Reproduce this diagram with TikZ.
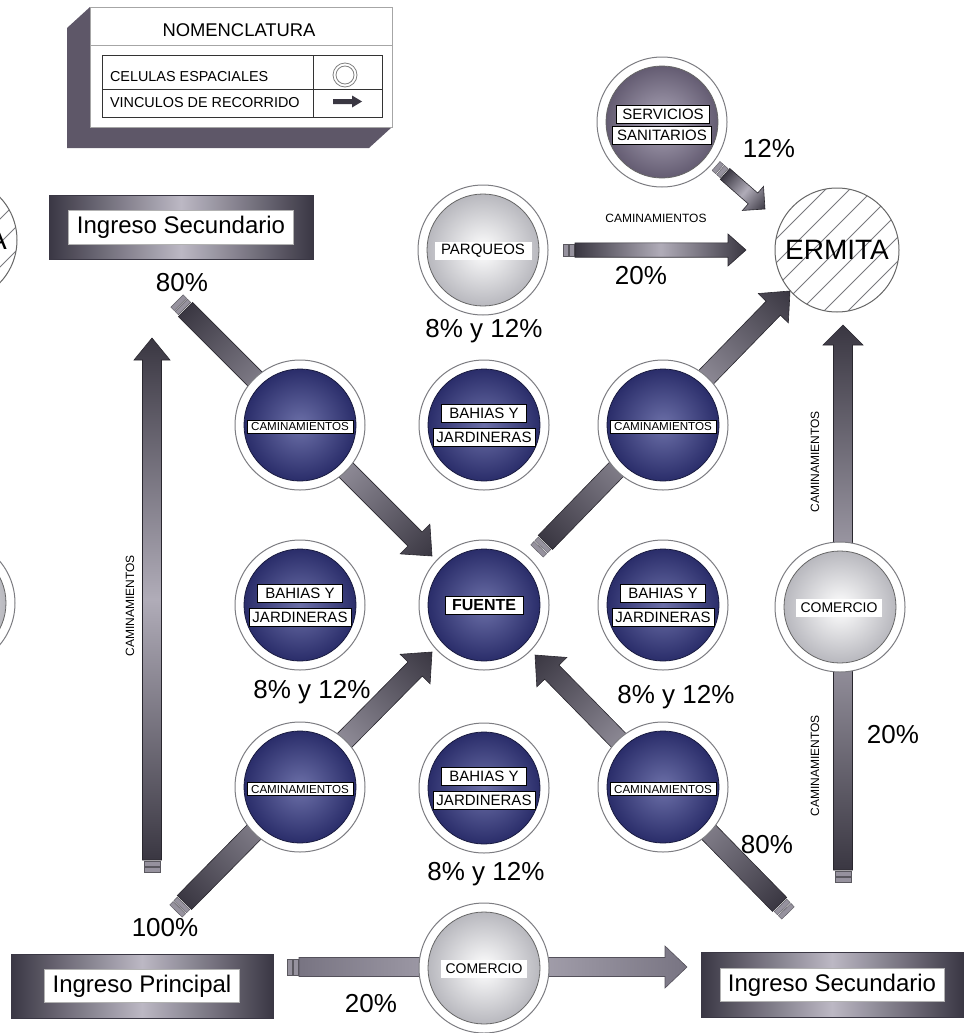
\documentclass[tikz,border=0pt]{standalone}
\usepackage{fontspec}
\setmainfont{Liberation Sans}
\usetikzlibrary{calc}
\definecolor{arrdark}{RGB}{58,55,66}
\definecolor{arrmid}{RGB}{120,116,130}
\definecolor{arrlight}{RGB}{176,172,184}
\definecolor{stripec}{RGB}{150,146,158}
\definecolor{discblueI}{RGB}{108,112,168}
\definecolor{discblueO}{RGB}{42,45,106}
\definecolor{gdiscO}{RGB}{184,184,190}
\definecolor{pdiscI}{RGB}{172,166,184}
\definecolor{pdiscO}{RGB}{100,92,114}
\definecolor{shadowc}{RGB}{94,87,104}
\definecolor{ringc}{RGB}{125,125,130}
\definecolor{boxdark}{RGB}{58,55,68}
\definecolor{boxlight}{RGB}{188,184,196}
\definecolor{hatchc}{RGB}{120,120,125}
\newcommand{\fsz}[1]{\fontsize{#1pt}{#1pt}\selectfont}
% #1 tail, #2 tip, #3 half shaft, #4 half head, #5 head length, #6 end colour
\newcommand{\flecha}[6]{%
  \path let \p1=(#1),\p2=(#2),\n1={atan2(\y2-\y1,\x2-\x1)},\n2={veclen(\x2-\x1,\y2-\y1)} in \pgfextra{\xdef\fang{\n1}\xdef\flen{\n2}};
  \pgfmathsetmacro\fbase{\flen-#5}%
  \pgfmathsetmacro\ftip{\flen}%
  \begin{scope}[transform canvas={shift={(#1)},rotate=\fang}]
    \fill[stripec,draw=stripec!60!black,line width=0.2pt] (0pt,-#3pt+0.6pt) rectangle (2.4pt,#3pt-0.6pt);
    \fill[stripec,draw=stripec!60!black,line width=0.2pt] (3pt,-#3pt+0.6pt) rectangle (5.4pt,#3pt-0.6pt);
    \shade[left color=#6,right color=#6,middle color=arrlight,draw=#6!70!black,line width=0.3pt]
      (6pt,-#3pt) -- (\fbase pt,-#3pt) -- (\fbase pt,-#4pt) -- (\ftip pt,0pt) -- (\fbase pt,#4pt) -- (\fbase pt,#3pt) -- (6pt,#3pt) -- cycle;
  \end{scope}}
\begin{document}
\begin{tikzpicture}[x=0.5pt,y=-0.5pt,
  ring/.style={circle,draw=ringc,line width=0.5pt,fill=white,minimum size=65pt,inner sep=0pt},
  bdisc/.style={circle,draw=discblueO!60!black,line width=0.4pt,inner color=discblueI,outer color=discblueO,minimum size=56pt,inner sep=0pt},
  gdisc/.style={circle,draw=gray!80!black,line width=0.4pt,inner color=white,outer color=gdiscO,minimum size=56pt,inner sep=0pt},
  pdisc/.style={circle,draw=gray!80!black,line width=0.4pt,inner color=pdiscI,outer color=pdiscO,minimum size=56pt,inner sep=0pt},
  lab/.style={draw=black,line width=0.35pt,fill=white,inner sep=0pt,font=\fsz{7.5},minimum height=9pt},
  camlab/.style={lab,font=\fsz{5.8},minimum width=53pt,minimum height=6.5pt},
  pct/.style={font=\fsz{13}},
  cam/.style={font=\fsz{6}},
  ingbox/.style={rectangle,left color=boxdark,right color=boxdark,middle color=boxlight,draw=boxdark,line width=0.4pt,inner sep=0pt},
  ingtxt/.style={rectangle,fill=white,draw=gray!60,line width=0.3pt,font=\fsz{12},inner sep=0pt},
]
\useasboundingbox (0,0) rectangle (969,1033);
\clip (0,0) rectangle (969,1033);

% ---------- Nomenclatura ----------
\fill[shadowc] (90,7) -- (67,28) -- (67,148) -- (369,148) -- (392,127) -- (392,7) -- cycle;
\node[rectangle,fill=white,draw=gray!70,line width=0.4pt,minimum width=151pt,minimum height=60pt,inner sep=0pt] (nom) at (241,67) {};
\node[font=\fsz{9.2}] (nomt) at (239,30) {NOMENCLATURA};
\draw[gray!70,line width=0.4pt] (90,45) -- (392,45);
\draw[black!80,line width=0.4pt] (102,55) rectangle (382,117);
\draw[black!80,line width=0.4pt] (102,89) -- (382,89);
\draw[black!80,line width=0.4pt] (313,55) -- (313,117);
\node[anchor=west,font=\fsz{7.2}] (cel) at (103,77) {CELULAS ESPACIALES};
\node[anchor=west,font=\fsz{7.2}] (vin) at (103,103) {VINCULOS DE RECORRIDO};
\node[circle,draw=gray,line width=0.4pt,minimum size=12pt,inner sep=0pt] (symc) at (345,75) {};
\node[circle,draw=gray,line width=0.4pt,minimum size=9pt,inner sep=0pt] at (symc) {};
\fill[arrdark] (333,99) -- (352,99) -- (352,95.5) -- (362,101.5) -- (352,107.5) -- (352,104) -- (333,104) -- cycle;

% ---------- partial circles at left edge ----------
\begin{scope}
  \clip (-45,240) circle (31pt);
  \foreach \k in {-6,...,6} \draw[hatchc,line width=0.4pt] (-45+\k*24-90,330) -- ++(180,-180);
\end{scope}
\node[circle,draw=gray!80!black,line width=0.5pt,minimum size=62pt,inner sep=0pt,font=\fsz{14}] (lerm) at (-45,240) {ERMITA};
\node[ring] (lring) at (-50,603) {};
\node[gdisc] at (lring) {};

% ---------- coordinates ----------
\coordinate (tA) at (177,301);  \coordinate (hA) at (432,556);
\coordinate (tB) at (537,551);  \coordinate (hB) at (790,291);
\coordinate (tC) at (176,911);  \coordinate (hC) at (432,652);
\coordinate (tD) at (788,913);  \coordinate (hD) at (535,655);
\coordinate (tE) at (152,872);  \coordinate (hE) at (152,338);
\coordinate (tF) at (843,882);  \coordinate (hF) at (843,325);
\coordinate (tG) at (287,967);  \coordinate (hG) at (687,967);
\coordinate (tH) at (563,250);  \coordinate (hH) at (746,250);
\coordinate (tI) at (716,166);  \coordinate (hI) at (765,209);

% ---------- arrows ----------
\flecha{tA}{hA}{5}{10.5}{12}{arrdark}
\flecha{tB}{hB}{5}{10.5}{12}{arrdark}
\flecha{tC}{hC}{5}{10.5}{12}{arrdark}
\flecha{tD}{hD}{5}{10.5}{12}{arrdark}
\flecha{tE}{hE}{4.75}{9}{11}{arrdark}
\flecha{tF}{hF}{4.75}{10}{10}{arrdark}
\flecha{tG}{hG}{4.75}{10.5}{11}{arrmid}
\flecha{tH}{hH}{3.6}{8}{9}{arrdark}
\flecha{tI}{hI}{3.6}{8}{8}{arrdark}

% ---------- ERMITA ----------
\begin{scope}
  \clip (837,250) circle (31pt);
  \foreach \k in {-6,...,6} \draw[hatchc,line width=0.4pt] (837+\k*24-90,340) -- ++(180,-180);
\end{scope}
\node[circle,draw=gray!80!black,line width=0.5pt,minimum size=62pt,inner sep=0pt,font=\fsz{14}] (erm) at (837,250) {ERMITA};

% ---------- Servicios sanitarios ----------
\node[ring] (serv) at (662,122) {};
\node[pdisc] at (serv) {};
\node[lab,minimum width=46.5pt] (servA) at (663,114) {SERVICIOS};
\node[lab,minimum width=49.5pt] (servB) at (662,135) {SANITARIOS};

% ---------- Parqueos ----------
\node[ring] (parq) at (483,250) {};
\node[gdisc] at (parq) {};
\node[lab,minimum width=48.5pt,draw=none] (parqL) at (483,251) {PARQUEOS};

% ---------- blue cells ----------
\foreach \nm/\px/\py in {c1/300/425, b1/484/425, c2/663/425, b2/300/605, fu/484/605, b3/663/605, c3/300/787, b4/484/788, c4/663/787}{
  \node[ring] (\nm) at (\px,\py) {};
  \node[bdisc] at (\nm) {};
}
\foreach \nm in {c1,c2,c3,c4}{
  \node[camlab] (\nm L) at ([yshift=-1pt]\nm.center) {CAMINAMIENTOS};
}
\foreach \nm in {b1,b2,b3,b4}{
  \node[lab,minimum width=42.5pt] (\nm A) at ([yshift=6pt]\nm.center) {BAHIAS Y};
  \node[lab,minimum width=51pt] (\nm B) at ([yshift=-6pt]\nm.center) {JARDINERAS};
}
\node[lab,minimum width=39pt,font=\fsz{8}\bfseries] (fuL) at (fu) {FUENTE};

% ---------- Comercio ----------
\node[ring] (comR) at (840,607) {};
\node[gdisc] at (comR) {};
\node[lab,minimum width=43pt,font=\fsz{7},draw=none] (comRL) at (839,608) {COMERCIO};
\node[ring] (comB) at (484,968) {};
\node[gdisc] at (comB) {};
\node[lab,minimum width=43pt,font=\fsz{7},draw=none] (comBL) at (484,969) {COMERCIO};

% ---------- Ingresos ----------
\node[ingbox,minimum width=132pt,minimum height=32pt] (ingS1) at (181,227) {};
\node[ingtxt,minimum width=112.5pt,minimum height=17pt] (ingS1t) at (ingS1) {Ingreso Secundario};
\node[ingbox,minimum width=131pt,minimum height=32pt] (ingP) at (142,986) {};
\node[ingtxt,minimum width=97.5pt,minimum height=16.5pt] (ingPt) at (ingP) {Ingreso Principal};
\node[ingbox,minimum width=131pt,minimum height=32.5pt] (ingS2) at (832,985) {};
\node[ingtxt,minimum width=112pt,minimum height=16.5pt] (ingS2t) at (ingS2) {Ingreso Secundario};

% ---------- percentages and texts ----------
\node[pct] (p1) at (182,283) {80\%};
\node[pct] (p2) at (165,928) {100\%};
\node[pct] (p3) at (767,845) {80\%};
\node[pct] (p4) at (893,735) {20\%};
\node[pct] (p5) at (371,1004) {20\%};
\node[pct] (p6) at (641,276) {20\%};
\node[pct] (p7) at (769,148) {12\%};
\node[pct] (q1) at (484,331) {8\% y 12\%};
\node[pct] (q2) at (312,692) {8\% y 12\%};
\node[pct] (q3) at (676,697) {8\% y 12\%};
\node[pct] (q4) at (486,874) {8\% y 12\%};
\node[cam] (k1) at (656,218) {CAMINAMIENTOS};
\node[cam,rotate=90] (k2) at (130,606) {CAMINAMIENTOS};
\node[cam,rotate=90] (k3) at (815,462) {CAMINAMIENTOS};
\node[cam,rotate=90] (k4) at (815,766) {CAMINAMIENTOS};
\end{tikzpicture}
\end{document}
